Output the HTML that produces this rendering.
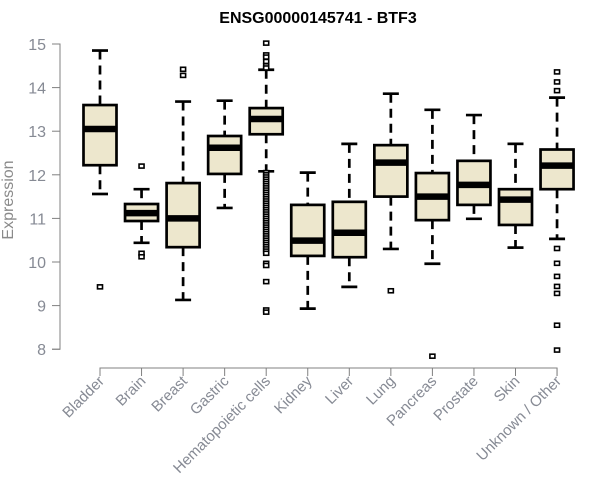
<!DOCTYPE html>
<html><head><meta charset="utf-8"><style>
body{margin:0;background:#fff;}
svg{display:block;font-family:"Liberation Sans",Arial,sans-serif;}
</style></head><body>
<svg id="chart" width="600" height="500">
<text x="318" y="23" text-anchor="middle" font-size="16" font-weight="bold">ENSG00000145741 - BTF3</text>
<text x="0" y="0" transform="translate(13,200) rotate(-90)" text-anchor="middle" font-size="16" fill="#8a8a8a">Expression</text>
<g id="axes"></g><g id="marks"></g>
</svg>
<script>
const categories=["Bladder","Brain","Breast","Gastric","Hematopoietic cells","Kidney","Liver","Lung","Pancreas","Prostate","Skin","Unknown / Other"];
const whiskLow=[11.56,10.44,9.13,11.24,12.08,8.93,9.43,10.3,9.96,10.99,10.33,10.53];
const q1=[12.22,10.94,10.34,12.02,12.93,10.14,10.11,11.5,10.96,11.31,10.85,11.67];
const medians=[13.05,11.12,11.0,12.62,13.28,10.49,10.67,12.28,11.5,11.77,11.43,12.21];
const q3=[13.6,11.33,11.81,12.89,13.53,11.31,11.38,12.68,12.04,12.32,11.67,12.58];
const whiskHigh=[14.85,11.67,13.68,13.7,14.41,12.05,12.71,13.86,13.49,13.37,12.71,13.77];
const outliers=[[9.43],[12.2,10.2,10.12],[14.42,14.28],[],
[15.02,14.75,14.7,14.6,14.5,14.45,12.05,12.0,11.95,11.9,11.85,11.8,11.75,11.7,11.65,11.6,11.55,11.5,11.45,11.4,11.35,11.3,11.25,11.2,11.15,11.1,11.05,11.0,10.95,10.9,10.85,10.8,10.75,10.7,10.65,10.6,10.55,10.5,10.45,10.4,10.35,10.3,10.25,10.2,9.97,9.92,9.55,8.9,8.85],
[],[],[9.34],[7.84],[],[],[14.36,14.13,13.93,10.31,9.97,9.67,9.44,9.28,8.55,7.98]];
const yTicks=[8,9,10,11,12,13,14,15];
const NS="http://www.w3.org/2000/svg";
const y=v=>44+(15-v)*43.6;
const x=i=>100+i*41.55;
function mk(parent,tag,attrs){const e=document.createElementNS(NS,tag);for(const k in attrs)e.setAttribute(k,attrs[k]);parent.appendChild(e);return e;}
const axes=document.getElementById('axes'),marks=document.getElementById('marks');
const ya=mk(axes,'path',{d:`M52,${y(15)}H60V${y(8)}H52`,stroke:'#808080',fill:'none'});


yTicks.forEach(t=>{
 mk(axes,'line',{x1:52,x2:60,y1:y(t),y2:y(t),stroke:'#808080'});
 const tx=mk(axes,'text',{x:46,y:y(t)+6,'text-anchor':'end','font-size':16,fill:'#868a94'});
 tx.textContent=t;
 
 
});
const xa=mk(axes,'path',{d:`M${x(0)},376V368H${x(11)}V376`,stroke:'#808080',fill:'none'});


categories.forEach((c,i)=>{
 mk(axes,'line',{x1:x(i),x2:x(i),y1:368,y2:376,stroke:'#808080'});
 const tx=mk(axes,'text',{x:0,y:0,transform:`translate(${x(i)+5},382) rotate(-45)`,'text-anchor':'end','font-size':15,fill:'#868a94'});
 tx.textContent=c;
 
 
 const g=mk(marks,'g',{});
 
 
 const cx=x(i);
 mk(g,'line',{x1:cx,x2:cx,y1:y(whiskHigh[i]),y2:y(q3[i]),stroke:'#000','stroke-width':2.7,'stroke-dasharray':'9,6'});
 mk(g,'line',{x1:cx,x2:cx,y1:y(q1[i]),y2:y(whiskLow[i]),stroke:'#000','stroke-width':2.7,'stroke-dasharray':'9,6'});
 mk(g,'line',{x1:cx-8,x2:cx+8,y1:y(whiskHigh[i]),y2:y(whiskHigh[i]),stroke:'#000','stroke-width':2.7});
 mk(g,'line',{x1:cx-8,x2:cx+8,y1:y(whiskLow[i]),y2:y(whiskLow[i]),stroke:'#000','stroke-width':2.7});
 mk(g,'rect',{x:cx-16.5,y:y(q3[i]),width:33,height:y(q1[i])-y(q3[i]),fill:'#ede7cd',stroke:'#000','stroke-width':2.7});
 mk(g,'line',{x1:cx-16.5,x2:cx+16.5,y1:y(medians[i]),y2:y(medians[i]),stroke:'#000','stroke-width':6.5});
 outliers[i].forEach(o=>{
  const r=mk(g,'rect',{x:cx-2.5,y:y(o)-2,width:5,height:4,fill:'#fff',stroke:'#000','stroke-width':1.6});
  
  
 });
});
</script>
</body></html>
